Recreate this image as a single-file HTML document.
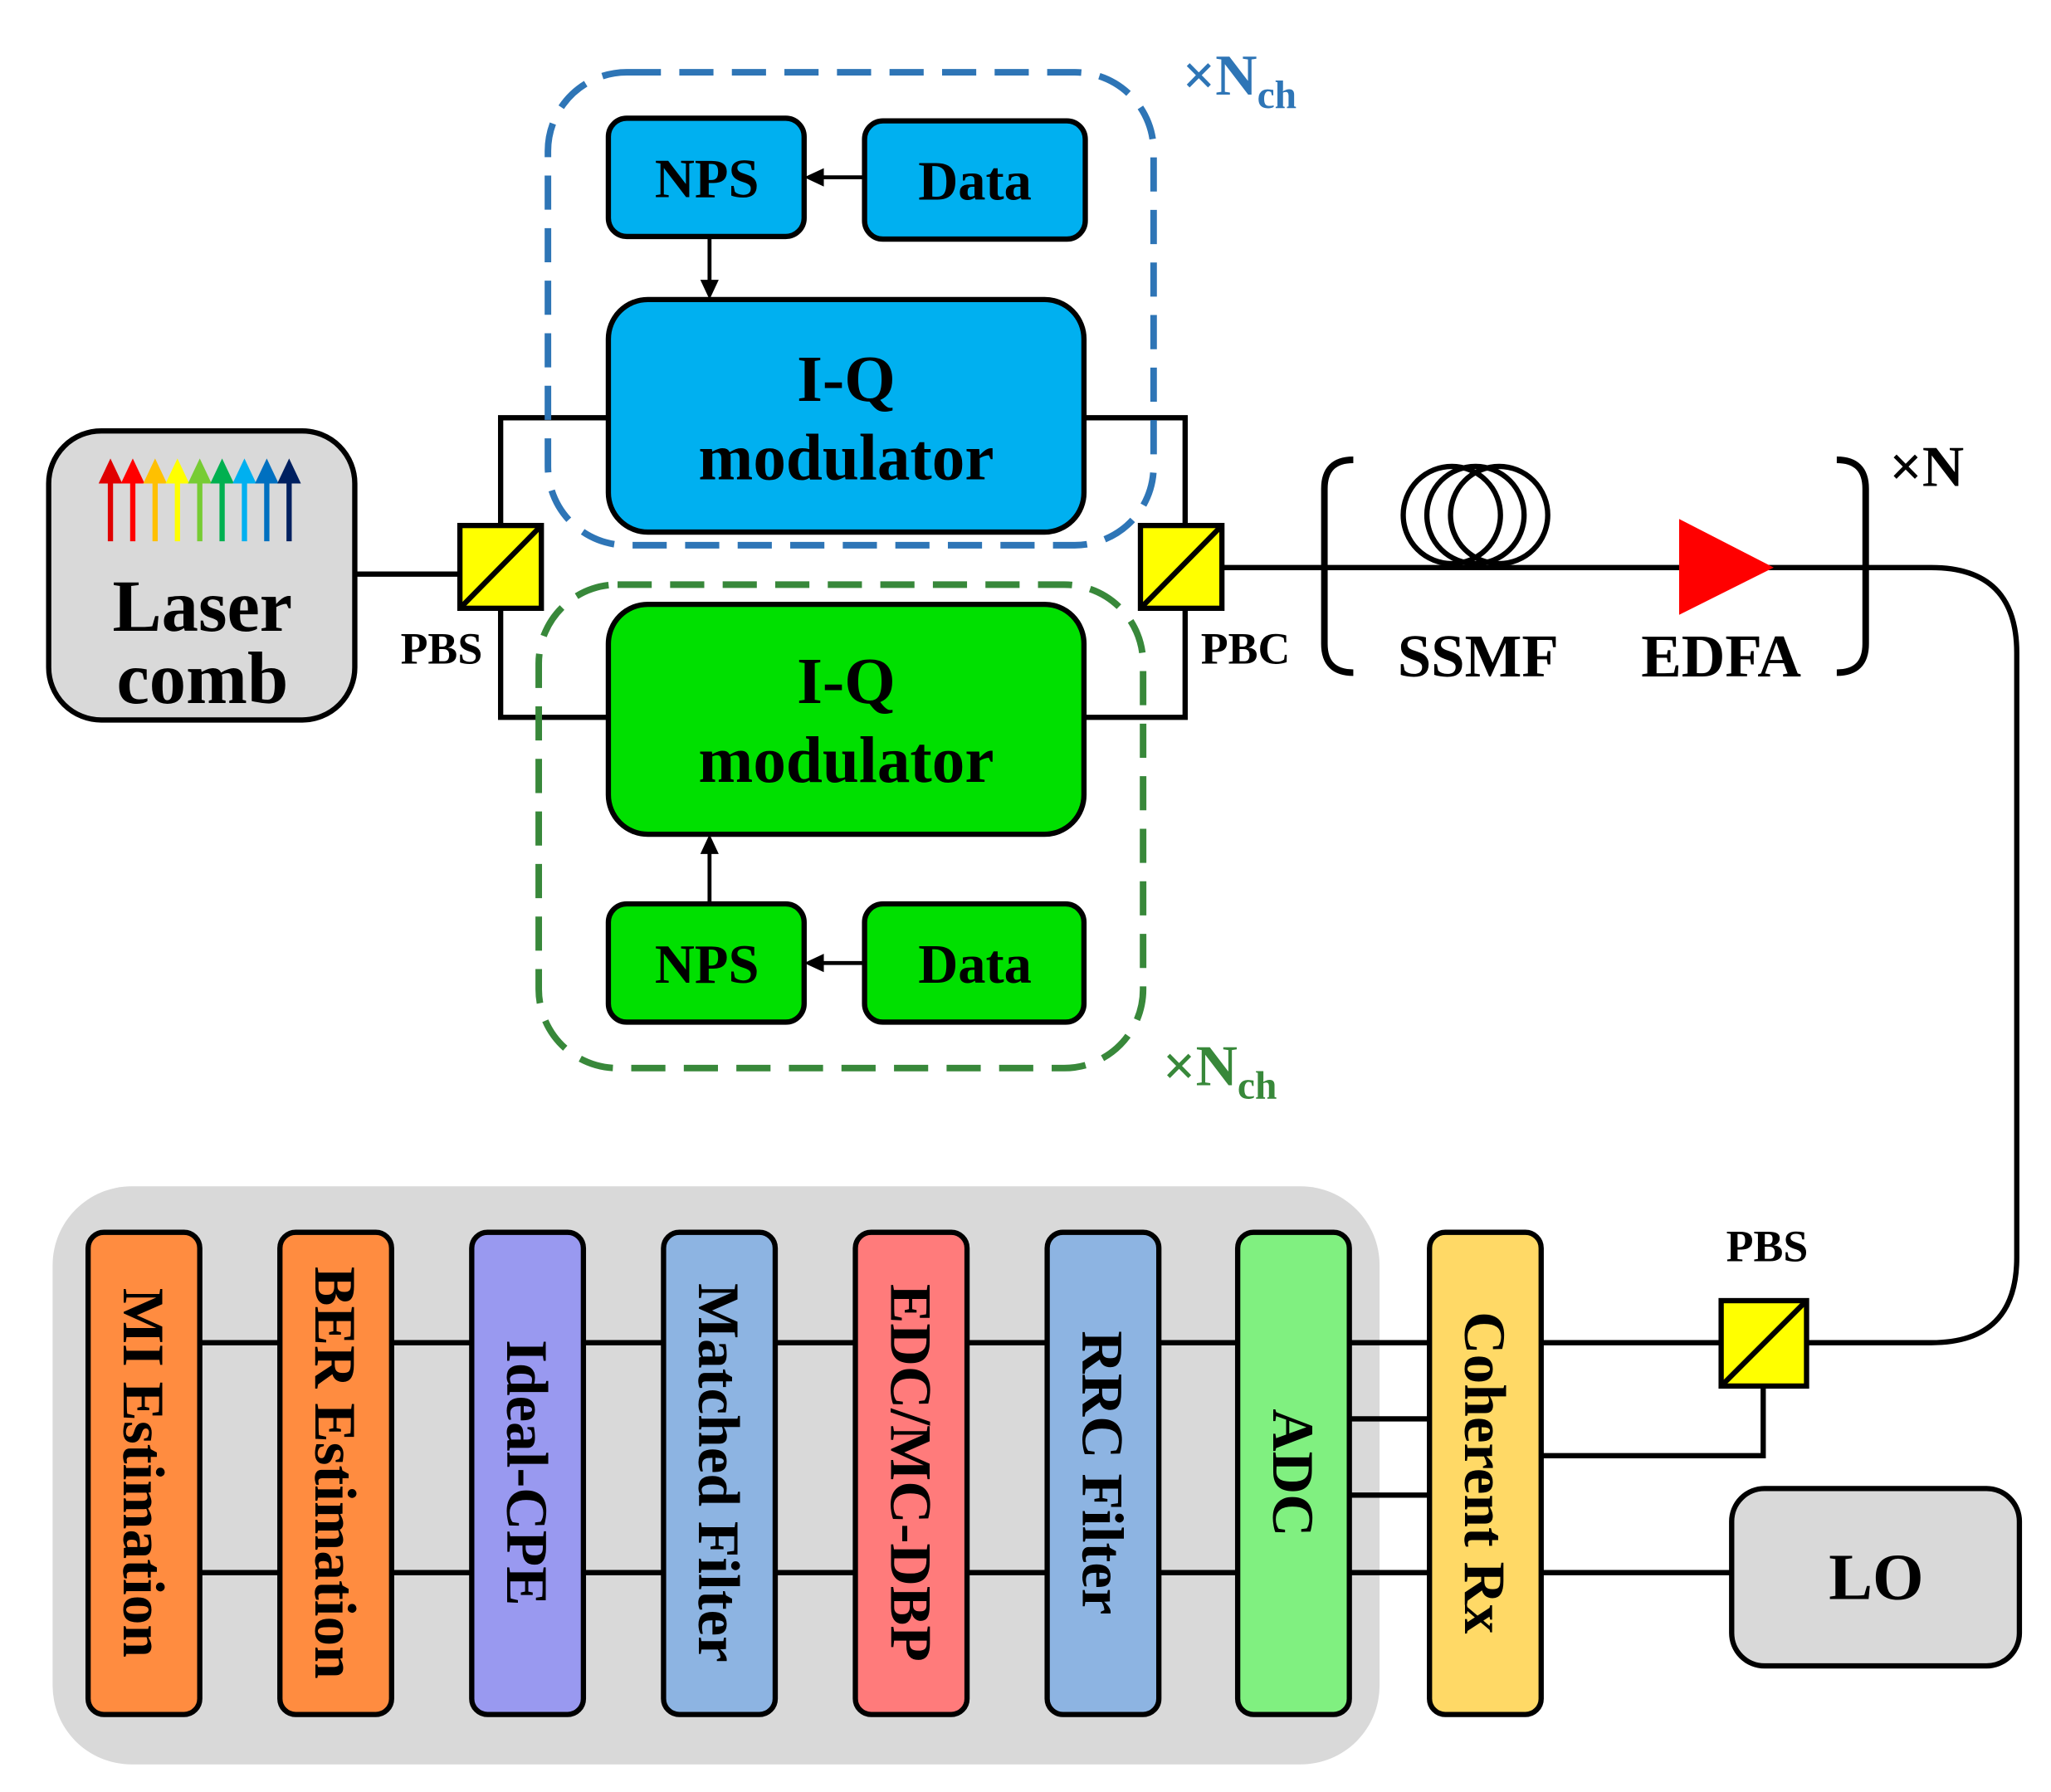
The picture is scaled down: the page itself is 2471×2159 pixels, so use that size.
<!DOCTYPE html>
<html><head><meta charset="utf-8"><style>html,body{margin:0;padding:0;background:#fff}svg{display:block}</style></head><body>
<svg width="2471" height="2159" viewBox="0 0 1561 1364" xmlns="http://www.w3.org/2000/svg" font-family="'Liberation Serif', serif" font-weight="bold">
<g stroke="#000" stroke-width="4" fill="none">
<line x1="270" y1="437" x2="350" y2="437"/>
<polyline points="381,400 381,318 463,318"/>
<polyline points="381,463 381,546 463,546"/>
<polyline points="825,318 902,318 902,400"/>
<polyline points="825,546 902,546 902,463"/>
<path d="M930,432 H1470 Q1535,432 1535,497 V957 Q1535,1022 1470,1022 H1375"/>
<line x1="1172" y1="1022" x2="1310" y2="1022"/>
<polyline points="1172,1108 1342,1108 1342,1055"/>
<line x1="1172" y1="1197" x2="1318" y2="1197"/>
</g>
<rect x="417" y="55" width="461" height="360" rx="60" fill="none" stroke="#2e75b6" stroke-width="5" stroke-dasharray="26,14"/>
<rect x="410" y="445" width="460" height="368" rx="60" fill="none" stroke="#38883a" stroke-width="5" stroke-dasharray="26,14"/>
<rect x="37" y="328" width="233" height="220" rx="40" fill="#d9d9d9" stroke="#000" stroke-width="4"/>
<g>
<line x1="84" y1="366" x2="84" y2="412" stroke="#e00000" stroke-width="4"/><polygon points="75,368 93,368 84,349" fill="#e00000"/>
<line x1="101" y1="366" x2="101" y2="412" stroke="#ff0000" stroke-width="4"/><polygon points="92,368 110,368 101,349" fill="#ff0000"/>
<line x1="118" y1="366" x2="118" y2="412" stroke="#ffc000" stroke-width="4"/><polygon points="109,368 127,368 118,349" fill="#ffc000"/>
<line x1="135" y1="366" x2="135" y2="412" stroke="#ffff00" stroke-width="4"/><polygon points="126,368 144,368 135,349" fill="#ffff00"/>
<line x1="152" y1="366" x2="152" y2="412" stroke="#77cc33" stroke-width="4"/><polygon points="143,368 161,368 152,349" fill="#77cc33"/>
<line x1="169" y1="366" x2="169" y2="412" stroke="#00b050" stroke-width="4"/><polygon points="160,368 178,368 169,349" fill="#00b050"/>
<line x1="186" y1="366" x2="186" y2="412" stroke="#00b0f0" stroke-width="4"/><polygon points="177,368 195,368 186,349" fill="#00b0f0"/>
<line x1="203" y1="366" x2="203" y2="412" stroke="#0070c0" stroke-width="4"/><polygon points="194,368 212,368 203,349" fill="#0070c0"/>
<line x1="220" y1="366" x2="220" y2="412" stroke="#002060" stroke-width="4"/><polygon points="211,368 229,368 220,349" fill="#002060"/>
</g>
<text x="154" y="480" font-size="56" text-anchor="middle">Laser</text>
<text x="154" y="535" font-size="56" text-anchor="middle">comb</text>
<rect x="350" y="400" width="62" height="63" fill="#ffff00" stroke="#000" stroke-width="4"/>
<line x1="350" y1="463" x2="412" y2="400" stroke="#000" stroke-width="4"/>
<text x="336" y="505" font-size="34" text-anchor="middle">PBS</text>
<rect x="868" y="400" width="62" height="63" fill="#ffff00" stroke="#000" stroke-width="4"/>
<line x1="868" y1="463" x2="930" y2="400" stroke="#000" stroke-width="4"/>
<text x="948" y="505" font-size="34" text-anchor="middle">PBC</text>
<rect x="463" y="228" width="362" height="177" rx="30" fill="#00b0f0" stroke="#000" stroke-width="4"/>
<text x="644" y="305" font-size="50" text-anchor="middle">I-Q</text>
<text x="644" y="365" font-size="50" text-anchor="middle">modulator</text>
<rect x="463" y="460" width="362" height="175" rx="30" fill="#00e000" stroke="#000" stroke-width="4"/>
<text x="644" y="535" font-size="50" text-anchor="middle">I-Q</text>
<text x="644" y="595" font-size="50" text-anchor="middle">modulator</text>
<rect x="463" y="90" width="149" height="90" rx="14" fill="#00b0f0" stroke="#000" stroke-width="4"/>
<text x="538" y="150" font-size="42" text-anchor="middle">NPS</text>
<rect x="658" y="92" width="168" height="90" rx="14" fill="#00b0f0" stroke="#000" stroke-width="4"/>
<text x="742" y="152" font-size="42" text-anchor="middle">Data</text>
<rect x="463" y="688" width="149" height="90" rx="14" fill="#00e000" stroke="#000" stroke-width="4"/>
<text x="538" y="748" font-size="42" text-anchor="middle">NPS</text>
<rect x="658" y="688" width="167" height="90" rx="14" fill="#00e000" stroke="#000" stroke-width="4"/>
<text x="742" y="748" font-size="42" text-anchor="middle">Data</text>
<g stroke="#000" stroke-width="3">
<line x1="658" y1="135" x2="625" y2="135"/><line x1="540" y1="180" x2="540" y2="215"/>
<line x1="658" y1="733" x2="625" y2="733"/><line x1="540" y1="688" x2="540" y2="648"/>
</g>
<polygon points="612,135 627,128 627,142"/>
<polygon points="540,228 533,213 547,213"/>
<polygon points="612,733 627,726 627,740"/>
<polygon points="540,635 533,650 547,650"/>
<text x="900" y="72" font-size="44" fill="#2e75b6">×N<tspan font-size="30" dy="10">ch</tspan></text>
<text x="885" y="826" font-size="44" fill="#38883a">×N<tspan font-size="30" dy="10">ch</tspan></text>
<path d="M1030,350 Q1008,350 1008,372 V490 Q1008,512 1030,512" fill="none" stroke="#000" stroke-width="5"/>
<path d="M1398,350 Q1420,350 1420,372 V490 Q1420,512 1398,512" fill="none" stroke="#000" stroke-width="5"/>
<g fill="none" stroke="#000" stroke-width="4">
<ellipse cx="1105" cy="392" rx="37" ry="37"/>
<ellipse cx="1123" cy="392" rx="37" ry="37"/>
<ellipse cx="1141" cy="392" rx="37" ry="37"/>
</g>
<polygon points="1278,395 1278,468 1350,432" fill="#ff0000"/>
<text x="1125" y="515" font-size="46" text-anchor="middle">SSMF</text>
<text x="1310" y="515" font-size="46" text-anchor="middle">EDFA</text>
<text x="1438" y="370" font-size="44">×N</text>
<rect x="40" y="903" width="1010" height="440" rx="60" fill="#d9d9d9"/>
<g stroke="#000" stroke-width="4">
<line x1="152" y1="1022" x2="1088" y2="1022"/>
<line x1="152" y1="1197" x2="1088" y2="1197"/>
<line x1="1026" y1="1080" x2="1088" y2="1080"/>
<line x1="1026" y1="1138" x2="1088" y2="1138"/>
</g>
<g stroke="#000" stroke-width="4">
<rect x="67" y="938" width="85" height="367" rx="12" fill="#ff8c40"/>
<rect x="213" y="938" width="85" height="367" rx="12" fill="#ff8c40"/>
<rect x="359" y="938" width="85" height="367" rx="12" fill="#9999f0"/>
<rect x="505" y="938" width="85" height="367" rx="12" fill="#8db4e2"/>
<rect x="651" y="938" width="85" height="367" rx="12" fill="#ff7b7b"/>
<rect x="797" y="938" width="85" height="367" rx="12" fill="#8db4e2"/>
<rect x="942" y="938" width="85" height="367" rx="12" fill="#80f080"/>
<rect x="1088" y="938" width="85" height="367" rx="12" fill="#ffd966"/>
</g>
<g font-size="45" text-anchor="middle">
<text transform="translate(109,1121) rotate(90)" dy="15">MI Estimation</text>
<text transform="translate(255,1121) rotate(90)" dy="15">BER Estimation</text>
<text transform="translate(401,1121) rotate(90)" dy="15">Ideal-CPE</text>
<text transform="translate(547,1121) rotate(90)" dy="15">Matched Filter</text>
<text transform="translate(693,1121) rotate(90)" dy="15">EDC/MC-DBP</text>
<text transform="translate(839,1121) rotate(90)" dy="15">RRC Filter</text>
<text transform="translate(984,1121) rotate(90)" dy="15">ADC</text>
<text transform="translate(1130,1121) rotate(90)" dy="15">Coherent Rx</text>
</g>
<rect x="1310" y="990" width="65" height="65" fill="#ffff00" stroke="#000" stroke-width="4"/>
<line x1="1310" y1="1055" x2="1375" y2="990" stroke="#000" stroke-width="4"/>
<text x="1345" y="960" font-size="34" text-anchor="middle">PBS</text>
<rect x="1318" y="1133" width="219" height="135" rx="25" fill="#d9d9d9" stroke="#000" stroke-width="4"/>
<text x="1428" y="1217" font-size="50" text-anchor="middle">LO</text>
</svg>
</body></html>
